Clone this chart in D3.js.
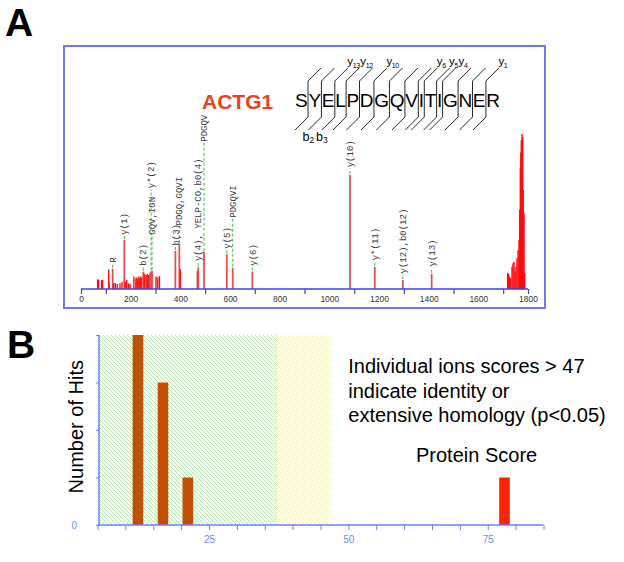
<!DOCTYPE html>
<html><head><meta charset="utf-8">
<script src="https://cdn.jsdelivr.net/npm/d3@7"></script>
<style>
html,body{margin:0;padding:0;background:#fff;}
text{font-family:"Liberation Sans",Arial,sans-serif;}
.mono{font-family:"Liberation Mono","DejaVu Sans Mono",monospace;}
</style>
</head><body>
<script>
// ---------- Panel A data (MS/MS spectrum) ----------
const peakMz = [67,71,83,87,111.5,113,127.5,131.5,138,146,157,165,174.5,178,184,191,197.5,
  213,221,225,229,233,237,241,245,251,255,262,267,273,278,282,286,302,309,316,
  380,396,400,468.5,472.5,495.5,587,611,690,1083,1183,1296,1412,
  1718,1722,1726,1730,1735.6,1739.7,1743.7,1747.7,1751.7,1755.8,1759.8,1763.8,1766.5,1769,1771,1773,1776,1778.7,1781,1784,1786.7];
const peakInt = [6.3,5.8,5.8,5.8,12.7,4.7,13.1,3.7,3.7,3.2,3.7,4.7,31.6,4.7,5.8,3.7,3.2,
  8,6.9,7.5,6.5,8,6.9,8,7.5,11.2,9.7,9,9.7,9,10.5,11.2,11.8,8,7.5,8.4,
  24.5,29,12.7,11.8,14,24,22.4,13.7,11.2,73.5,14.2,5.8,9.7,
  10.5,9.7,8,6.9,14.4,16.6,17.6,11.2,14.4,19.8,25.2,31.6,51,77.9,88,96,100,98.3,63.9,48.8,10.1];
const labelMz   = [127.5,174.5,251,286,282,380,396,472.5,495.5,587,611,690,1083,1183,1296,1412];
const labelText = ["R","y(1)","b(2)","GQV,IGN","y*(2)","b(3)","PDGQ,GQVI","y(4), YELP-CO,b0(4)","PDGQV","y(5)","PDGQVI","y(6)","y(10)","y*(11)","y(12),b0(12)","y(13)"];
const labelAt   = [17,35,15,35,65,28,41,18,95,26,46,15,78.5,18.5,10,14.5];
const mzTickLabels = [0,200,400,600,800,1000,1200,1400,1600,1800];
const mzMinorTicks = [0,100,300,500,700,900,1100,1300,1500,1700,1800];
const proteinName = "ACTG1";
const peptide = "SYELPDGQVITIGNER";
const yIons = [13,12,10,6,5,4,1];
const bIons = [2,3];

// ---------- Panel B data (score histogram) ----------
const hitScores = [12.25,16.75,21.2];
const hitCounts = [4,3,1];
const proteinScore = [78];
const proteinCount = [1];
const homologyThreshold = 37;
const identityThreshold = 47;
const scoreTickLabels = [25,50,75];
const scoreTicks = d3.range(5,86,5);
const countTicks = [0,1,2,3,4];
const noteLines = ["Individual ions scores > 47","indicate identity or","extensive homology (p<0.05)"];

const svg = d3.select("body").append("svg").attr("width",624).attr("height",562);
const defs = svg.append("defs");
function hatch(id,bg,fg,w){
  const p = defs.append("pattern").attr("id",id).attr("patternUnits","userSpaceOnUse")
    .attr("width",4).attr("height",4);
  if(bg) p.append("rect").attr("width",4).attr("height",4).attr("fill",bg);
  p.append("path").attr("d","M-1,-1L5,5M3,-1L5,1M-1,3L1,5").attr("stroke",fg).attr("stroke-width",w);
}
hatch("hg",null,"#ade9a5",1.0);
hatch("hy",null,"#f6f4ac",1.0);
hatch("hb","#ff3300","#3f8a0a",0.65);

// ---------- Panel labels ----------
svg.append("text").attr("x",5).attr("y",36).attr("font-size",39).attr("font-weight","bold").text("A");
svg.append("text").attr("x",7).attr("y",358).attr("font-size",39).attr("font-weight","bold").text("B");

// ---------- Panel A ----------
svg.append("rect").attr("x",64).attr("y",46).attr("width",481).attr("height",262)
  .attr("fill","none").attr("stroke","#7676e8").attr("stroke-width",2);

const x = d3.scaleLinear().domain([0,1800]).range([81,528]);
const y = d3.scaleLinear().domain([0,100]).range([289,134]);
const labelled = new Set(labelMz);

const gA = svg.append("g");
gA.selectAll("line.pk").data(peakMz).join("line").attr("class","pk")
  .attr("x1",d=>x(d)).attr("x2",d=>x(d)).attr("y1",y(0))
  .attr("y2",(d,i)=>y(peakInt[i]))
  .attr("stroke",d=>labelled.has(d)?"#e25050":"#ff0c0c")
  .attr("stroke-width",d=>labelled.has(d)?1.8:1.4);

// leaders + labels
const intOf = m => peakInt[peakMz.indexOf(m)];
gA.selectAll("line.ld").data(labelMz).join("line").attr("class","ld")
  .attr("x1",d=>x(d)).attr("x2",d=>x(d))
  .attr("y1",d=>y(intOf(d))-1).attr("y2",(d,i)=>y(labelAt[i])+1)
  .attr("stroke","#3cbf3c").attr("stroke-width",1).attr("stroke-dasharray","3,2");
gA.selectAll("text.lb").data(labelMz).join("text").attr("class","lb mono")
  .attr("transform",(d,i)=>`translate(${x(d)},${y(labelAt[i])}) rotate(-90)`)
  .attr("dy","0.35em").attr("font-size",9).attr("fill","#3a3a3a")
  .text((d,i)=>labelText[i]);

// x axis
gA.append("line").attr("x1",x(0)).attr("x2",x(1800)).attr("y1",y(0)).attr("y2",y(0))
  .attr("stroke","#3c3cff").attr("stroke-width",1.5);
const axA = d3.axisBottom(x).tickValues(mzTickLabels).tickSize(0).tickPadding(7).tickFormat(d3.format("d"));
const gax = gA.append("g").attr("transform",`translate(0,${y(0)})`).call(axA);
gax.select(".domain").remove();
gax.selectAll("text").attr("font-family","'DejaVu Sans',Verdana,sans-serif").attr("font-size",8.5).attr("fill","#333");
const axM = d3.axisBottom(x).tickValues(mzMinorTicks).tickSize(5).tickFormat("");
const gm = gA.append("g").attr("transform",`translate(0,${y(0)})`).call(axM);
gm.select(".domain").remove();
gm.selectAll("line").attr("stroke","#3c3cff").attr("stroke-width",1.2);

// protein name
svg.append("text").attr("x",202).attr("y",108.5).attr("font-size",21).attr("font-weight","bold")
  .attr("fill","#e8421e").text(proteinName);

// peptide diagram
const pep = svg.append("text").attr("x",295).attr("y",106.5).attr("font-size",19)
  .attr("textLength",205).attr("lengthAdjust","spacing").attr("fill","#000").text(peptide);
const node = pep.node();
const bonds = [];
for(let i=1;i<peptide.length;i++){
  const s = node.getStartPositionOfChar(i).x;
  const e = node.getEndPositionOfChar(i-1).x;
  bonds.push((s+e)/2);
}
const gP = svg.append("g").attr("stroke","#111").attr("stroke-width",0.9).attr("fill","none");
bonds.forEach(bx=>{
  gP.append("path").attr("d",`M${bx+13},${68}L${bx},${81}L${bx},${117}L${bx-13},${130}`);
});
let prevRight = -Infinity;
yIons.forEach(n=>{
  const bx = bonds[peptide.length-n-1];
  const lx = Math.max(bx+12.5, prevRight+0.6);
  const t = svg.append("text").attr("x",lx).attr("y",65).attr("font-size",11.5).attr("letter-spacing",-0.4);
  t.append("tspan").text("y");
  t.append("tspan").attr("font-size",7).attr("dy",2.5).text(n);
  prevRight = lx + t.node().getComputedTextLength();
});
bIons.forEach(n=>{
  const bx = bonds[n-1];
  const t = svg.append("text").attr("x",bx-13).attr("y",140.5).attr("font-size",12.5).attr("text-anchor","middle");
  t.append("tspan").text("b");
  t.append("tspan").attr("font-size",8.5).attr("dy",2.5).text(n);
});

// ---------- Panel B ----------
const xs = d3.scaleLinear().domain([5,85]).range([97.5,543.5]);
const yc = d3.scaleLinear().domain([0,4]).range([525,335]);
const gB = svg.append("g");
gB.append("rect").attr("x",xs(5)).attr("y",yc(4)).attr("width",xs(homologyThreshold)-xs(5))
  .attr("height",yc(0)-yc(4)).attr("fill","url(#hg)");
gB.append("rect").attr("x",xs(homologyThreshold)).attr("y",yc(4))
  .attr("width",xs(identityThreshold)-xs(homologyThreshold))
  .attr("height",yc(0)-yc(4)).attr("fill","url(#hy)");
gB.append("line").attr("x1",xs(homologyThreshold)).attr("x2",xs(homologyThreshold))
  .attr("y1",yc(4)).attr("y2",yc(0)).attr("stroke","#d8df5a").attr("stroke-dasharray","1,2");
const bw = xs(1.9)-xs(0);
gB.selectAll("rect.hit").data(hitScores).join("rect").attr("class","hit")
  .attr("x",d=>xs(d)-bw/2).attr("width",bw)
  .attr("y",(d,i)=>yc(hitCounts[i])).attr("height",(d,i)=>yc(0)-yc(hitCounts[i]))
  .attr("fill","url(#hb)");
gB.selectAll("rect.prot").data(proteinScore).join("rect").attr("class","prot")
  .attr("x",d=>xs(d)-bw/2).attr("width",bw)
  .attr("y",(d,i)=>yc(proteinCount[i])).attr("height",(d,i)=>yc(0)-yc(proteinCount[i]))
  .attr("fill","#ff2400");

const axisCol = "#6680ff";
const axX = d3.axisBottom(xs).tickValues(scoreTicks).tickSize(5)
  .tickFormat(d=>scoreTickLabels.includes(d)?d:"").tickPadding(6);
const gx = gB.append("g").attr("transform",`translate(0,${yc(0)})`).call(axX);
gx.select(".domain").attr("stroke",axisCol).attr("stroke-width",1.5).attr("d",`M${xs(5)},0H${xs(85)}`);
gx.selectAll("line").attr("stroke",axisCol);
gx.selectAll("text").attr("font-family","'DejaVu Sans',Verdana,sans-serif").attr("font-size",10).attr("fill","#6f86ff");
const axY = d3.axisLeft(yc).tickValues(countTicks).tickSize(3)
  .tickFormat(d=>d===0?"0":"").tickPadding(19);
const gy = gB.append("g").attr("transform",`translate(${xs(5)+1.5},0)`).call(axY);
gy.select(".domain").attr("stroke",axisCol).attr("stroke-width",1.5).attr("d",`M0,${yc(0)}V${yc(4)}`);
gy.selectAll("line").attr("stroke",axisCol);
gy.selectAll("text").attr("font-family","'DejaVu Sans',Verdana,sans-serif").attr("font-size",10).attr("fill","#6f86ff");

svg.append("text").attr("transform","translate(82.7,426.7) rotate(-90)").attr("text-anchor","middle")
  .attr("font-size",20).attr("fill","#000").text("Number of Hits");
svg.append("g").selectAll("text").data(noteLines).join("text")
  .attr("x",348.3).attr("y",(d,i)=>373.3+i*24.2).attr("font-size",20).attr("fill","#000").text(d=>d);
svg.append("text").attr("x",416).attr("y",461.7).attr("font-size",20).attr("fill","#000").text("Protein Score");
</script>
</body></html>
